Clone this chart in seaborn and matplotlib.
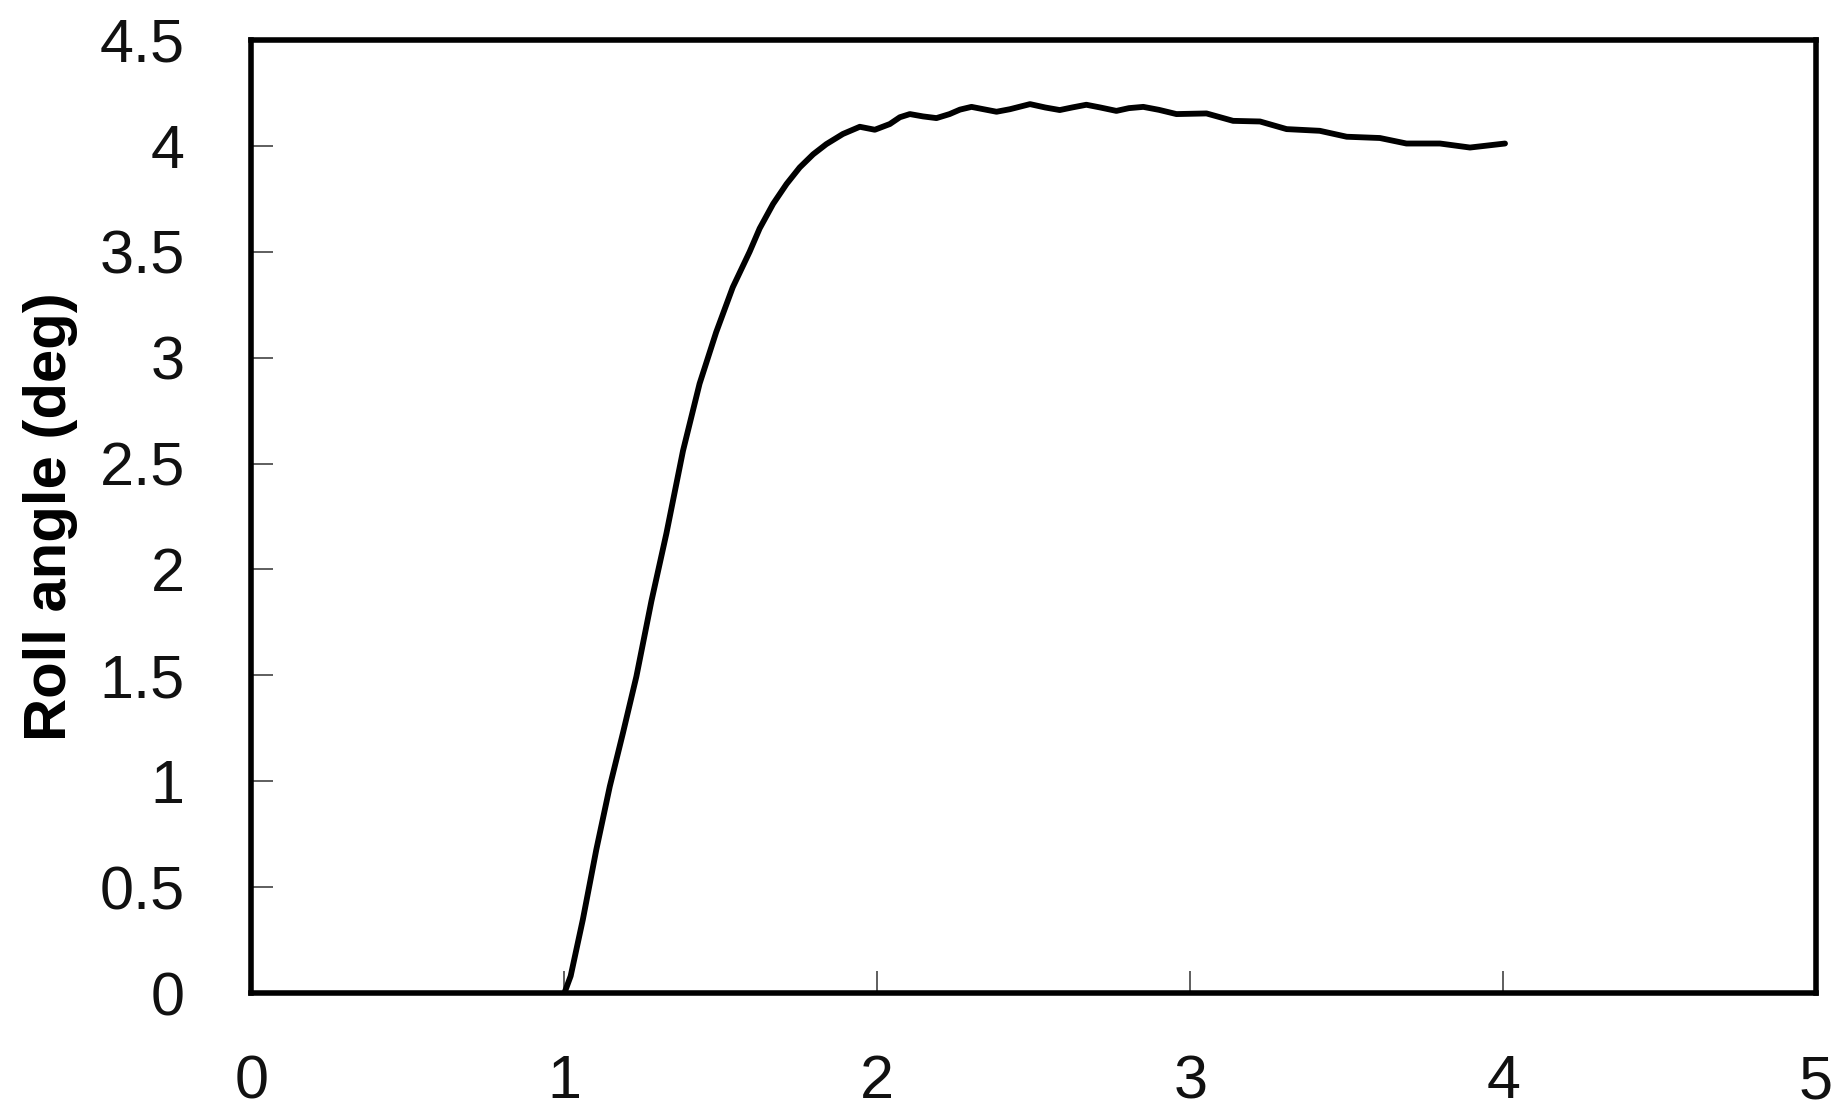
import matplotlib
matplotlib.use("Agg")
import matplotlib.pyplot as plt
import seaborn as sns
import pandas as pd

# Time (s) and roll angle (deg)
time_s = [1.000, 1.020, 1.059, 1.102, 1.145, 1.187, 1.230, 1.278, 1.326, 1.379,
          1.432, 1.485, 1.538, 1.592, 1.624, 1.667, 1.710, 1.752, 1.795, 1.837,
          1.890, 1.944, 1.992, 2.040, 2.072, 2.104, 2.146, 2.189, 2.231, 2.264,
          2.301, 2.339, 2.381, 2.424, 2.488, 2.537, 2.583, 2.622, 2.668, 2.713,
          2.764, 2.804, 2.850, 2.900, 2.956, 3.052, 3.137, 3.223, 3.308, 3.414,
          3.500, 3.606, 3.691, 3.798, 3.894, 4.006]
roll_deg = [0.000, 0.080, 0.347, 0.677, 0.975, 1.227, 1.494, 1.850, 2.170, 2.560,
            2.877, 3.120, 3.332, 3.500, 3.610, 3.726, 3.820, 3.898, 3.960, 4.008,
            4.056, 4.090, 4.076, 4.103, 4.135, 4.150, 4.139, 4.131, 4.150, 4.171,
            4.184, 4.173, 4.161, 4.173, 4.197, 4.181, 4.169, 4.181, 4.194, 4.181,
            4.165, 4.178, 4.184, 4.170, 4.150, 4.153, 4.118, 4.115, 4.079, 4.071,
            4.043, 4.037, 4.011, 4.011, 3.992, 4.011]

x_ticks = [0, 1, 2, 3, 4, 5]
y_ticks = [0, 0.5, 1, 1.5, 2, 2.5, 3, 3.5, 4, 4.5]
y_tick_labels = ["0", "0.5", "1", "1.5", "2", "2.5", "3", "3.5", "4", "4.5"]
y_label = "Roll angle (deg)"

df = pd.DataFrame({"t": time_s, "roll": roll_deg})

sns.set_theme(style="white")
plt.rcParams["font.family"] = ["Liberation Sans", "DejaVu Sans"]

fig = plt.figure(figsize=(18.37, 11.19), dpi=100)
ax = fig.add_axes([0.1369, 0.1126, 0.8517, 0.8517])

sns.lineplot(data=df, x="t", y="roll", ax=ax, color="black", linewidth=4.2,
             sort=False, estimator=None, solid_joinstyle="round",
             solid_capstyle="round")

ax.set_xlim(0, 5)
ax.set_ylim(0, 4.5)
ax.set_xticks(x_ticks)
ax.set_xticklabels([str(v) for v in x_ticks])
ax.set_yticks(y_ticks)
ax.set_yticklabels(y_tick_labels)
ax.set_xlabel("")
ax.set_ylabel(y_label, fontsize=43, fontweight="bold", color="black")
ax.yaxis.set_label_coords(-0.111, 0.5)

ax.tick_params(axis="both", which="major", direction="in", length=16, width=1.1,
               color="#333333", labelsize=44, labelcolor="#111111",
               bottom=True, left=True, top=False, right=False)
ax.tick_params(axis="y", pad=48)
ax.tick_params(axis="x", pad=44)

for side in ["left", "right", "top", "bottom"]:
    ax.spines[side].set_visible(True)
    ax.spines[side].set_color("black")
    ax.spines[side].set_linewidth(4)

ax.grid(False)
fig.savefig("out.png", dpi=100, facecolor="white")
